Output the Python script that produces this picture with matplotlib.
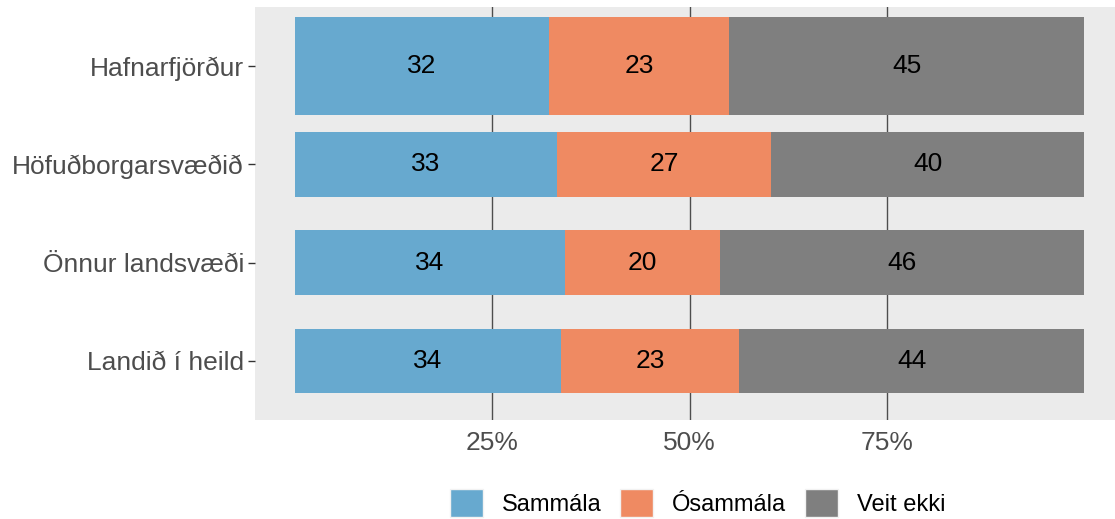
#!/usr/bin/env python3
import matplotlib
matplotlib.use("Agg")
import matplotlib.pyplot as plt
from matplotlib.patches import Patch

plt.rcParams['font.family'] = ['Liberation Sans', 'DejaVu Sans']

# regions, bottom to top
regions = ["Landið í heild", "Önnur landsvæði", "Höfuðborgarsvæðið", "Hafnarfjörður"]
sammala = [33.7, 34.2, 33.2, 32.2]
osammala = [22.6, 19.6, 27.1, 22.8]
veit_ekki = [43.7, 46.2, 39.7, 45.0]
series_names = ["Sammála", "Ósammála", "Veit ekki"]
colors = ["#67A9CF", "#EF8A62", "#7F7F7F"]
x_ticks = [25, 50, 75]
x_ticklabels = ["25%", "50%", "75%"]
highlight = "Hafnarfjörður"  # drawn as a thicker bar

FS = 19

def main():
    fig = plt.figure(figsize=(11.15, 5.19), dpi=100)
    ax = fig.add_axes([255 / 1115, 1 - 420 / 519, 860 / 1115, 413 / 519])
    ax.set_facecolor("#EBEBEB")

    ypos = list(range(1, len(regions) + 1))
    heights = [1.0 if r == highlight else 0.66 for r in regions]
    left = [0.0] * len(regions)
    for vals, col in zip([sammala, osammala, veit_ekki], colors):
        ax.barh(ypos, vals, left=left, height=heights, color=col, zorder=2)
        for y, l, v in zip(ypos, left, vals):
            ax.text(l + v / 2, y, f"{round(v):d}", ha="center", va="center",
                    fontsize=FS, color="black", zorder=3)
        left = [a + b for a, b in zip(left, vals)]

    ax.set_xlim(-5.07, 103.9)
    ax.set_ylim(0.4, 4.6)
    ax.set_xticks(x_ticks)
    ax.set_xticklabels(x_ticklabels, fontsize=FS, color="#4D4D4D")
    ax.set_yticks(ypos)
    ax.set_yticklabels(regions, fontsize=FS, color="#4D4D4D")
    ax.tick_params(axis="x", length=0, pad=8)
    ax.tick_params(axis="y", length=5, width=1, color="#333333", pad=3)
    ax.grid(axis="x", color="#4D4D4D", linewidth=1, zorder=1)
    ax.set_axisbelow(True)
    for s in ax.spines.values():
        s.set_visible(False)

    # legend below the panel
    handles = [Patch(facecolor=c, edgecolor="#F2F2F2", label=n)
               for c, n in zip(colors, series_names)]
    fig.legend(handles=handles, loc="center", bbox_to_anchor=(0.6256, 0.031),
               ncol=3, frameon=False, fontsize=17, handlelength=1.40,
               handleheight=1.40, handletextpad=0.80, columnspacing=0.78,
               borderpad=0)

    fig.savefig("out.png", dpi=100)

if __name__ == '__main__':
    main()
